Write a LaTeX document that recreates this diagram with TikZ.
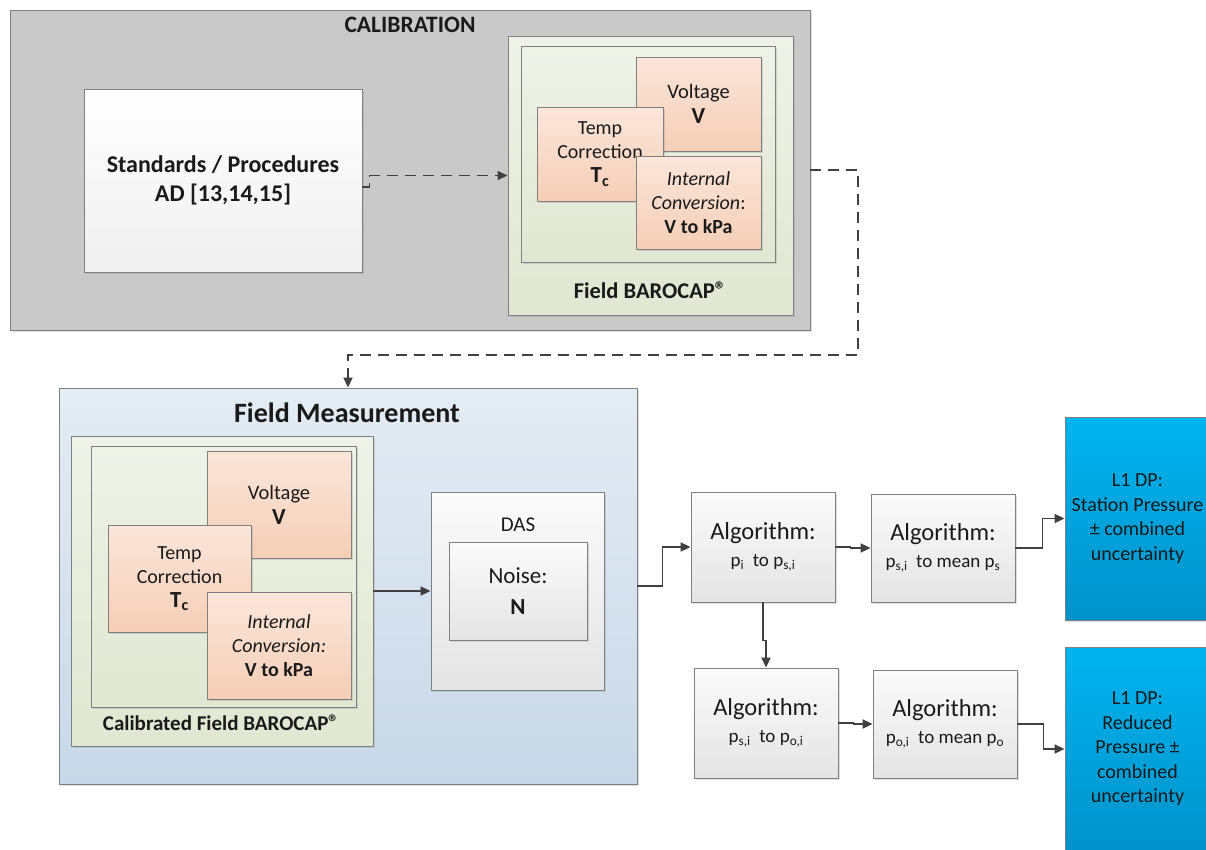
\documentclass[tikz,border=0pt]{standalone}
\usepackage{fontspec}
\setmainfont{Carlito}
\usetikzlibrary{arrows.meta,shadows,calc}
\definecolor{txt}{HTML}{1A1A1A}
\definecolor{bord}{HTML}{808080}
\definecolor{conn}{HTML}{404040}
\definecolor{grn1}{HTML}{EFF2E8}
\definecolor{grn2}{HTML}{E1E7D2}
\definecolor{pch1}{HTML}{FBE6DA}
\definecolor{pch2}{HTML}{F5CEB6}
\definecolor{blu1}{HTML}{E4ECF4}
\definecolor{blu2}{HTML}{C8D8E8}
\definecolor{alg1c}{HTML}{FBFBFB}
\definecolor{alg2c}{HTML}{E4E4E4}
\definecolor{cyn1}{HTML}{00B4F0}
\definecolor{cyn2}{HTML}{0092CB}
\tikzset{
  base/.style={draw=bord, line width=0.9pt, inner sep=0pt, text=txt, align=center,
    drop shadow={shadow xshift=2pt, shadow yshift=-2pt, opacity=0.25}},
  graybox/.style={base, fill=black!21},
  whitebox/.style={base, top color=white, bottom color=black!6},
  greenbox/.style={base, top color=grn1, bottom color=grn2},
  peach/.style={base, top color=pch1, bottom color=pch2},
  bluebox/.style={base, top color=blu1, bottom color=blu2},
  algbox/.style={base, top color=alg1c, bottom color=alg2c},
  l1box/.style={base, top color=cyn1, bottom color=cyn2},
  lbl/.style={text=txt, inner sep=0pt, align=center},
  arr/.style={draw=conn, line width=1.8pt, -{Triangle[length=10pt,width=9pt]}},
  dsh/.style={arr, dash pattern=on 11pt off 7pt},
}
\newcommand{\fsz}[2]{\fontsize{#1}{#2}\selectfont}
\newcommand{\regmark}{\raisebox{0.05em}{®}}
\begin{document}
\begin{tikzpicture}[x=1pt,y=-1pt]
\useasboundingbox (0,0) rectangle (1206,849);
% ---------- CALIBRATION ----------
\node[graybox, minimum width=800pt, minimum height=320pt] (calib) at (410,170) {};
\node[lbl, font=\fsz{23.5}{27}\bfseries] (calibt) at (410,25) {CALIBRATION};
\node[whitebox, minimum width=278pt, minimum height=183pt, font=\fsz{24}{29}\bfseries] (std) at (223,180.5) {Standards / Procedures\\AD [13,14,15]};
\node[greenbox, minimum width=285pt, minimum height=279pt] (fbo) at (650.5,175.5) {};
\node[greenbox, minimum width=254pt, minimum height=216pt] (fbi) at (648,154) {};
\node[lbl, font=\fsz{22.5}{26}\bfseries] (fbl) at (650,290) {Field BAROCAP\regmark};
\node[peach, minimum width=125pt, minimum height=94pt, font=\fsz{20.5}{25}] (v1) at (698.5,104) {Voltage\\{\fsz{23}{25}\bfseries V}};
\node[peach, minimum width=126pt, minimum height=94pt, font=\fsz{20}{24}] (t1) at (600,154) {Temp\\Correction\\{\fsz{23}{27}\bfseries T\textsubscript{c}}};
\node[peach, minimum width=125pt, minimum height=93pt, font=\fsz{20}{24}] (i1) at (698.5,202.5) {\textit{Internal}\\\textit{Conversion}:\\\textbf{V to kPa}};
% ---------- FIELD MEASUREMENT ----------
\node[bluebox, minimum width=578pt, minimum height=396pt] (fm) at (348,586) {};
\node[lbl, font=\fsz{28}{32}\bfseries] (fmt) at (347,413) {Field Measurement};
\node[greenbox, minimum width=302pt, minimum height=310pt] (cbo) at (222,591) {};
\node[greenbox, minimum width=265pt, minimum height=261pt] (cbi) at (223.5,576.5) {};
\node[lbl, font=\fsz{21}{25}\bfseries] (cbl) at (221,723) {Calibrated Field BAROCAP\regmark};
\node[peach, minimum width=144pt, minimum height=107pt, font=\fsz{20.5}{25}] (v2) at (279,504.5) {Voltage\\{\fsz{23}{25}\bfseries V}};
\node[peach, minimum width=143pt, minimum height=107pt, font=\fsz{20}{24}] (t2) at (179.5,578.5) {Temp\\Correction\\{\fsz{23}{27}\bfseries T\textsubscript{c}}};
\node[peach, minimum width=144pt, minimum height=107pt, font=\fsz{20}{24}] (i2) at (279,645.5) {\textit{Internal}\\\textit{Conversion:}\\\textbf{V to kPa}};
\node[algbox, minimum width=173pt, minimum height=198pt] (das) at (517.5,591) {};
\node[lbl, font=\fsz{21}{25}] (dasl) at (518,525) {DAS};
\node[algbox, minimum width=138pt, minimum height=98pt, font=\fsz{23}{31}] (noise) at (518,591) {Noise:\\\textbf{N}};
% ---------- ALGORITHMS ----------
\node[algbox, minimum width=144pt, minimum height=110pt, font=\fsz{24.5}{27}] (a1) at (763,547) {Algorithm:\\{\fsz{19}{22}p\textsubscript{i}\ \ to p\textsubscript{s,i}}};
\node[algbox, minimum width=144pt, minimum height=108pt, font=\fsz{24.5}{27}] (a2) at (943,548) {Algorithm:\\{\fsz{19}{22}p\textsubscript{s,i}\ \ to mean p\textsubscript{s}}};
\node[algbox, minimum width=144pt, minimum height=110pt, font=\fsz{24.5}{27}] (a3) at (766,723) {Algorithm:\\{\fsz{19}{22}p\textsubscript{s,i}\ \ to p\textsubscript{o,i}}};
\node[algbox, minimum width=144pt, minimum height=108pt, font=\fsz{24.5}{27}] (a4) at (945,724) {Algorithm:\\{\fsz{19}{22}p\textsubscript{o,i}\ \ to mean p\textsubscript{o}}};
\node[l1box, minimum width=145pt, minimum height=203pt, font=\fsz{20}{24.5}] (l1a) at (1137.5,518.5) {L1 DP:\\Station Pressure\\± combined\\uncertainty};
\node[l1box, minimum width=145pt, minimum height=204pt, font=\fsz{20}{24.5}] (l1b) at (1137.5,749) {L1 DP:\\Reduced\\Pressure ±\\combined\\uncertainty};
% ---------- CONNECTORS ----------
\coordinate (d1) at (858,355);
\draw[dsh] ($(std.east)+(0,6.5)$) -- ++(7,0) |- (fbo.west);
\draw[dsh] (calib.east) -| (d1) -| (fm.north);
\draw[arr] (cbo.east) -- (das.west);
\draw[arr] (fm.east) -- ++(25,0) |- (a1.west);
\draw[arr] (a1.east) -- ++(15,0) |- (a2.west);
\draw[arr] (a1.south) -- ++(0,38) -| (a3.north);
\draw[arr] (a2.east) -- ++(27,0) |- (l1a.west);
\draw[arr] (a3.east) -- ++(15,0) |- (a4.west);
\draw[arr] (a4.east) -- ++(26,0) |- (l1b.west);
\end{tikzpicture}
\end{document}
